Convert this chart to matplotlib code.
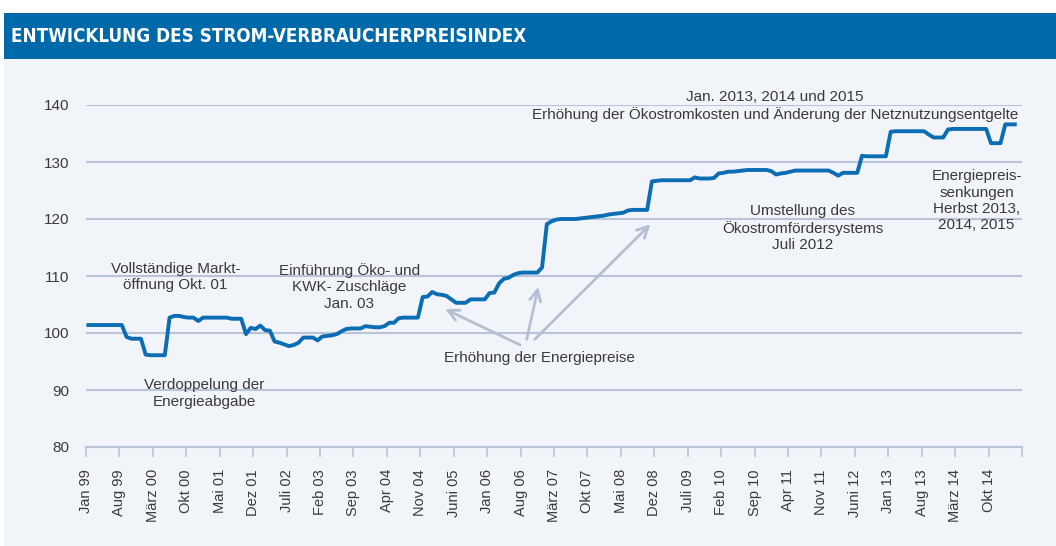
import matplotlib
matplotlib.use('Agg')
import matplotlib.pyplot as plt
from matplotlib.patches import Rectangle

# monthly index values, Jan 1999 .. Mar 2015 ..................................
y1999 = [101.4, 101.4, 101.4, 101.4, 101.4, 101.4, 101.4, 101.4, 99.3, 99.0, 99.0, 99.0]
y2000 = [96.2, 96.1, 96.1, 96.1, 96.1, 102.7, 103.0, 103.0, 102.8, 102.7, 102.7, 102.1]
y2001 = [102.7, 102.7, 102.7, 102.7, 102.7, 102.7, 102.5, 102.5, 102.5, 99.8, 100.9, 100.7]
y2002 = [101.3, 100.5, 100.4, 98.5, 98.3, 98.0, 97.7, 97.9, 98.3, 99.2, 99.2, 99.2]
y2003 = [98.7, 99.4, 99.5, 99.6, 99.8, 100.3, 100.7, 100.8, 100.8, 100.8, 101.2, 101.1]
y2004 = [101.0, 101.0, 101.2, 101.8, 101.8, 102.6, 102.7, 102.7, 102.7, 102.7, 106.3, 106.4]
y2005 = [107.2, 106.8, 106.7, 106.5, 105.9, 105.3, 105.3, 105.3, 105.9, 105.9, 105.9, 105.9]
y2006 = [107.0, 107.1, 108.7, 109.5, 109.7, 110.2, 110.5, 110.6, 110.6, 110.6, 110.6, 111.5]
y2007 = [119.1, 119.6, 119.9, 120.0, 120.0, 120.0, 120.0, 120.1, 120.2, 120.3, 120.4, 120.5]
y2008 = [120.6, 120.8, 120.9, 121.0, 121.1, 121.5, 121.6, 121.6, 121.6, 121.6, 126.6, 126.7]
y2009 = [126.8, 126.8, 126.8, 126.8, 126.8, 126.8, 126.8, 127.3, 127.1, 127.1, 127.1, 127.2]
y2010 = [128.0, 128.1, 128.3, 128.3, 128.4, 128.5, 128.6, 128.6, 128.6, 128.6, 128.6, 128.4]
y2011 = [127.8, 128.0, 128.1, 128.3, 128.5, 128.5, 128.5, 128.5, 128.5, 128.5, 128.5, 128.5]
y2012 = [128.1, 127.6, 128.1, 128.1, 128.1, 128.1, 131.1, 131.0, 131.0, 131.0, 131.0, 131.0]
y2013 = [135.3, 135.4, 135.4, 135.4, 135.4, 135.4, 135.4, 135.4, 134.8, 134.3, 134.3, 134.3]
y2014 = [135.7, 135.8, 135.8, 135.8, 135.8, 135.8, 135.8, 135.8, 135.8, 133.3, 133.3, 133.3]
y2015 = [136.6, 136.6, 136.6]

tick_labels = ['Jan 99', 'Aug 99', 'März 00', 'Okt 00', 'Mai 01', 'Dez 01', 'Juli 02',
               'Feb 03', 'Sep 03', 'Apr 04', 'Nov 04', 'Juni 05', 'Jan 06', 'Aug 06',
               'März 07', 'Okt 07', 'Mai 08', 'Dez 08', 'Juli 09', 'Feb 10', 'Sep 10',
               'Apr 11', 'Nov 11', 'Juni 12', 'Jan 13', 'Aug 13', 'März 14', 'Okt 14']

TITLE = 'ENTWICKLUNG DES STROM-VERBRAUCHERPREISINDEX'
BLUE = '#0069aa'
PANEL = '#f1f4f9'
LINE = '#0b6db3'
GRID = '#b9c4d8'
ARROW = '#b4c0d4'
TEXT = '#3a3a3a'

plt.rcParams['font.family'] = ['Liberation Sans', 'DejaVu Sans']

values = (y1999 + y2000 + y2001 + y2002 + y2003 + y2004 + y2005 + y2006 + y2007
          + y2008 + y2009 + y2010 + y2011 + y2012 + y2013 + y2014 + y2015)
xs = [i + 0.5 for i in range(len(values))]

W, H = 1056, 546
fig = plt.figure(figsize=(W / 100, H / 100), dpi=100)
fig.patch.set_facecolor('white')
fig.patches.append(Rectangle((4 / W, 0), 1 - 4 / W, 1 - 59 / H, transform=fig.transFigure,
                             facecolor=PANEL, edgecolor='none', zorder=-2))
fig.patches.append(Rectangle((4 / W, 1 - 59 / H), 1 - 4 / W, 46 / H, transform=fig.transFigure,
                             facecolor=BLUE, edgecolor='none', zorder=-2))
fig.text(11 / W, 1 - 37 / H, TITLE, color='white', fontsize=13.5, fontweight='bold',
         family='DejaVu Sans', fontstretch='condensed', ha='left', va='center')

ax = fig.add_axes([86 / W, 1 - 447 / H, (1022 - 86) / W, (447 - 105) / H])
ax.set_facecolor('none')
ax.plot(xs, values, color=LINE, lw=2.8, solid_joinstyle='round', zorder=3)

ax.set_xlim(0, 196)
ax.set_ylim(80, 140)
ax.set_yticks(range(80, 141, 10))
ax.set_xticks(range(0, 197, 7))
ax.set_xticklabels(tick_labels + [''], rotation=90)
ax.yaxis.grid(True, color=GRID, lw=1.5)
ax.set_axisbelow(True)
for s in ['top', 'right', 'left']:
    ax.spines[s].set_visible(False)
ax.spines['bottom'].set_color(GRID)
ax.spines['bottom'].set_linewidth(1.5)
ax.tick_params(axis='x', length=7, width=1.2, color=GRID, pad=9, labelsize=10.5, labelcolor=TEXT)
ax.tick_params(axis='y', length=0, pad=12, labelsize=11, labelcolor=TEXT)

# annotations ..................................................................
kw = dict(ha='center', va='center', fontsize=11, color=TEXT, linespacing=1.2, clip_on=False)
ax.text(18.7, 109.8, 'Vollständige Markt-\nöffnung Okt. 01', **kw)
ax.text(24.7, 89.4, 'Verdoppelung der\nEnergieabgabe', **kw)
ax.text(55.1, 108.1, 'Einführung Öko- und\nKWK- Zuschläge\nJan. 03', **kw)
ax.text(95.0, 95.6, 'Erhöhung der Energiepreise', **kw)
ax.text(150.1, 118.4, 'Umstellung des\nÖkostromfördersystems\nJuli 2012', **kw)
ax.text(186.5, 123.2, 'Energiepreis-\nsenkungen\nHerbst 2013,\n2014, 2015', **kw)
ax.text(144.3, 139.8, 'Jan. 2013, 2014 und 2015\n'
        'Erhöhung der Ökostromkosten und Änderung der Netznutzungsentgelte', **kw)

arrows = [((90.9, 97.9), (75.2, 104.2)),
          ((92.3, 98.9), (94.7, 108.1)),
          ((94.0, 98.9), (118.2, 119.1))]
for tail, head in arrows:
    ax.annotate('', xy=head, xytext=tail,
                arrowprops=dict(arrowstyle='->,head_length=0.8,head_width=0.4',
                                color=ARROW, lw=2, shrinkA=0, shrinkB=0))

fig.savefig('out.png', dpi=100, facecolor=fig.get_facecolor())
